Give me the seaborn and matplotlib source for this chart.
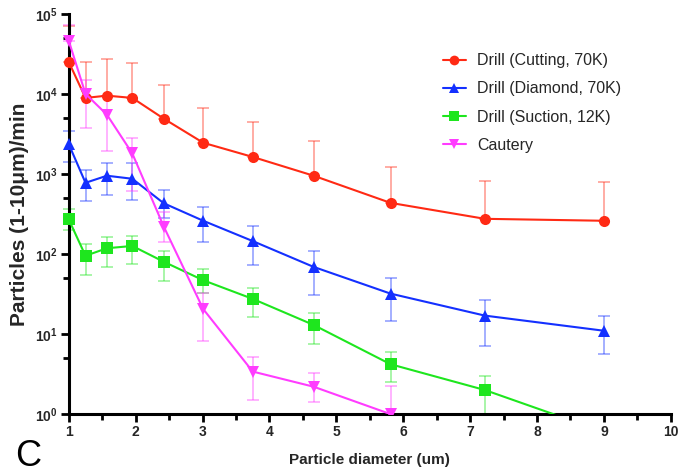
import numpy as np
import pandas as pd
import matplotlib
matplotlib.use("Agg")
import matplotlib.pyplot as plt
import seaborn as sns
from matplotlib.patches import Rectangle
from matplotlib.ticker import LogLocator, FixedLocator, NullFormatter

# particle diameter bins (um)
diameter = [1.0, 1.25, 1.57, 1.95, 2.42, 3.01, 3.75, 4.66, 5.81, 7.22, 9.0]

cutting = [25000, 8900, 9500, 8900, 4900, 2450, 1630, 950, 435, 275, 260]
cutting_hi = [71000, 25000, 27000, 24500, 13000, 6700, 4500, 2600, 1230, 820, 800]
cutting_lo = cutting

diamond = [2350, 775, 950, 870, 430, 260, 145, 69, 32, 17, 11]
diamond_hi = [3450, 1120, 1380, 1380, 630, 390, 225, 110, 50, 27, 17]
diamond_lo = [1400, 460, 550, 475, 280, 140, 73, 31, 14.5, 7, 5.6]

suction = [270, 95, 118, 126, 80, 47, 27.5, 13, 4.2, 2.0, 0.6]
suction_hi = [365, 132, 163, 167, 110, 65, 38, 18.5, 5.9, 3.0, 0.8]
suction_lo = [200, 55, 69, 75, 46, 33, 16.5, 7.5, 2.5, 1.0, 0.4]

cautery = [46000, 10000, 5500, 1800, 220, 20.5, 3.4, 2.2, 1.0, 0.3, 0.1]
cautery_hi = [72000, 15000, 9500, 2800, 335, 33, 5.2, 3.3, 2.25, 0.5, 0.15]
cautery_lo = [46000, 3800, 1950, 620, 140, 8.2, 1.5, 1.4, 0.5, 0.2, 0.05]

labels = ["Drill (Cutting, 70K)", "Drill (Diamond, 70K)",
          "Drill (Suction, 12K)", "Cautery"]
colors = ["#ff2a14", "#1430ff", "#1ee61e", "#ff3cff"]
markers = ["o", "^", "s", "v"]

series = [
    (cutting, cutting_lo, cutting_hi),
    (diamond, diamond_lo, diamond_hi),
    (suction, suction_lo, suction_hi),
    (cautery, cautery_lo, cautery_hi),
]

rows = []
for lab, (vals, lo, hi) in zip(labels, series):
    for d, v in zip(diameter, vals):
        rows.append({"diameter": d, "particles": v, "source": lab})
df = pd.DataFrame(rows)

sns.set_theme(style="ticks")
plt.rcParams["font.family"] = ["Liberation Sans", "DejaVu Sans"]
plt.rcParams["mathtext.fontset"] = "custom"
plt.rcParams["mathtext.rm"] = "Liberation Sans:bold"
plt.rcParams["mathtext.bf"] = "Liberation Sans:bold"

fig = plt.figure(figsize=(6.81, 4.76), dpi=100)
ax = fig.add_axes([0.101, 0.130, 0.884, 0.841])

# error bars first (lighter)
for lab, col, (vals, lo, hi) in zip(labels, colors, series):
    v = np.array(vals, dtype=float)
    lo_err = v - np.array(lo, dtype=float)
    hi_err = np.array(hi, dtype=float) - v
    ax.errorbar(diameter, v, yerr=[lo_err, hi_err], fmt="none",
                ecolor=col, alpha=0.45, elinewidth=1.2, capsize=4,
                capthick=1.2, zorder=2)

sns.lineplot(data=df, x="diameter", y="particles", hue="source",
             style="source", hue_order=labels, style_order=labels,
             palette=dict(zip(labels, colors)),
             markers=dict(zip(labels, markers)), dashes=False,
             markersize=8, markeredgewidth=0, linewidth=1.5,
             ax=ax, zorder=3)

# let markers at x=1 show fully over the left spine, still clip at the bottom
clip = Rectangle((-0.03, 0), 1.06, 1.05, transform=ax.transAxes,
                 fill=False, visible=False)
ax.add_patch(clip)
for ln in ax.lines:
    ln.set_clip_path(clip)

ax.set_yscale("log")
ax.set_xlim(1, 10)
ax.set_ylim(1, 1e5)

ax.xaxis.set_major_locator(FixedLocator(range(1, 11)))
ax.xaxis.set_minor_locator(FixedLocator(np.arange(1.5, 10, 1.0)))
ax.yaxis.set_major_locator(LogLocator(base=10, numticks=10))
ax.yaxis.set_minor_locator(FixedLocator([5 * 10 ** k for k in range(0, 5)]))
ax.yaxis.set_minor_formatter(NullFormatter())
ax.set_yticks([1, 10, 100, 1000, 1e4, 1e5])
ax.set_yticklabels([r"$\mathbf{10^{%d}}$" % k for k in range(6)])

ax.tick_params(axis="both", which="major", direction="out", length=6,
               width=2, labelsize=10, pad=2, color="black")
ax.tick_params(axis="both", which="minor", direction="out", length=4,
               width=2, color="black")
for lbl in ax.get_xticklabels():
    lbl.set_fontweight("bold")

for side in ["top", "right"]:
    ax.spines[side].set_visible(False)
for side in ["left", "bottom"]:
    ax.spines[side].set_linewidth(2.2)
    ax.spines[side].set_color("black")

ax.set_xlabel("Particle diameter (um)", fontsize=11, fontweight="bold",
              labelpad=10)
ax.set_ylabel("Particles (1-10\u03bcm)/min", fontsize=15, fontweight="bold",
              labelpad=4)

leg = ax.legend(loc="upper left", bbox_to_anchor=(0.598, 0.937),
                frameon=False, fontsize=11.5, handlelength=1.4,
                handletextpad=0.75, labelspacing=0.82)
for h in leg.legend_handles:
    h.set_markersize(7)

fig.text(0.022, 0.022, "C", fontsize=26, color="black")

fig.savefig("out.png", dpi=100)
